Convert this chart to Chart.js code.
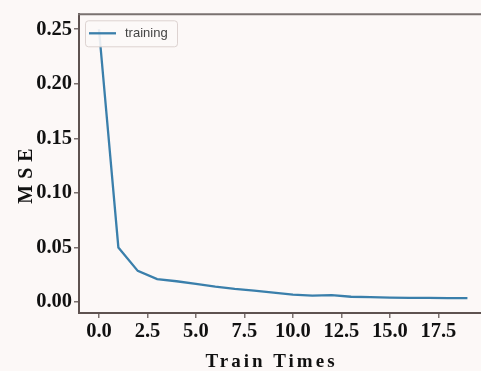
<!DOCTYPE html>
<html>
<head>
<meta charset="utf-8">
<script src="https://cdn.jsdelivr.net/npm/chart.js@4/dist/chart.umd.min.js"></script>
<style>
  html, body { margin: 0; padding: 0; background: #fcf8f7; }
  #wrap { width: 481px; height: 371px; position: relative; }
</style>
</head>
<body>
<div id="wrap"><canvas id="c" width="481" height="371"></canvas></div>
<script>
// ---- data ----
const trainTimes = [0, 1, 2, 3, 4, 5, 6, 7, 8, 9, 10, 11, 12, 13, 14, 15, 16, 17, 18, 19];
const mseTraining = [0.250, 0.050, 0.0285, 0.021, 0.019, 0.0165, 0.014, 0.012, 0.0105, 0.0085, 0.0068, 0.0058, 0.0062, 0.0048, 0.0044, 0.0040, 0.0038, 0.0037, 0.0036, 0.0035];
const seriesLabel = 'training';
const xTickValues = [0, 2.5, 5, 7.5, 10, 12.5, 15, 17.5];
const yTickValues = [0, 0.05, 0.10, 0.15, 0.20, 0.25];
const xTitle = 'Train Times';
const yTitle = 'MSE';

const SPINE = '#5e5250';
const BG = '#fcf8f7';
const tickFont = { family: "'Liberation Serif', 'Times New Roman', serif", size: 20.5, weight: 'bold' };

const bgPlugin = {
  id: 'bg',
  beforeDraw(chart) {
    const ctx = chart.ctx;
    ctx.save();
    ctx.fillStyle = BG;
    ctx.fillRect(0, 0, chart.width, chart.height);
    ctx.restore();
  }
};

const framePlugin = {
  id: 'frame',
  afterDraw(chart) {
    const ctx = chart.ctx;
    const a = chart.chartArea;
    ctx.save();
    // top spine
    ctx.strokeStyle = '#7a7270';
    ctx.lineWidth = 2;
    ctx.beginPath();
    ctx.moveTo(a.left - 1, a.top);
    ctx.lineTo(a.right, a.top);
    ctx.stroke();

    // legend box
    const ds = chart.data.datasets[0];
    const bx = a.left + 6, by = a.top + 6, bw = 92, bh = 26;
    ctx.fillStyle = 'rgba(252,248,247,0.9)';
    ctx.strokeStyle = '#ddd3d1';
    ctx.lineWidth = 1;
    ctx.beginPath();
    if (ctx.roundRect) ctx.roundRect(bx + 0.5, by + 0.5, bw, bh, 3); else ctx.rect(bx + 0.5, by + 0.5, bw, bh);
    ctx.fill();
    ctx.stroke();
    ctx.strokeStyle = ds.borderColor;
    ctx.lineWidth = 2.3;
    ctx.beginPath();
    ctx.moveTo(bx + 4, by + 13);
    ctx.lineTo(bx + 31, by + 13);
    ctx.stroke();
    ctx.fillStyle = '#444';
    ctx.font = "13px 'Liberation Sans', Arial, sans-serif";
    ctx.textBaseline = 'middle';
    ctx.textAlign = 'left';
    ctx.fillText(ds.label, bx + 40, by + 13);

    // axis titles
    ctx.fillStyle = '#111';
    ctx.font = "bold 19px 'Liberation Serif', 'Times New Roman', serif";
    ctx.textBaseline = 'alphabetic';
    ctx.letterSpacing = '3px';
    let w = ctx.measureText(xTitle).width - 3;
    ctx.fillText(xTitle, 270 - w / 2, 367);

    ctx.translate(32, 176);
    ctx.rotate(-Math.PI / 2);
    ctx.font = "bold 20px 'Liberation Serif', 'Times New Roman', serif";
    ctx.letterSpacing = '6px';
    w = ctx.measureText(yTitle).width - 6;
    ctx.fillText(yTitle, -w / 2, 0);
    ctx.restore();
  }
};

new Chart(document.getElementById('c'), {
  type: 'line',
  data: {
    labels: trainTimes,
    datasets: [{
      label: seriesLabel,
      data: trainTimes.map((t, i) => ({ x: t, y: mseTraining[i] })),
      borderColor: '#3a7fab',
      borderWidth: 2.3,
      pointRadius: 0,
      tension: 0,
      fill: false
    }]
  },
  options: {
    responsive: false,
    animation: false,
    devicePixelRatio: 1,
    layout: { padding: { top: 14, right: 0, left: 0, bottom: 0 } },
    plugins: { legend: { display: false }, tooltip: { enabled: false } },
    scales: {
      x: {
        type: 'linear',
        min: -1.03,
        max: 19.7,
        afterFit(s) { s.height = 58; },
        afterBuildTicks(s) { s.ticks = xTickValues.map(v => ({ value: v })); },
        grid: { drawOnChartArea: false, drawTicks: true, tickLength: 5, color: '#7a706e', lineWidth: 1.5 },
        border: { display: true, color: SPINE, width: 2 },
        ticks: {
          font: tickFont, color: '#111', padding: 1, maxRotation: 0, autoSkip: false,
          callback: v => Number(v).toFixed(1)
        }
      },
      y: {
        type: 'linear',
        min: -0.0101,
        max: 0.2637,
        afterFit(s) { s.width = 79; },
        afterBuildTicks(s) { s.ticks = yTickValues.map(v => ({ value: v })); },
        grid: { drawOnChartArea: false, drawTicks: true, tickLength: 5, color: '#7a706e', lineWidth: 1.5 },
        border: { display: true, color: SPINE, width: 2 },
        ticks: {
          font: tickFont, color: '#111', padding: 2, autoSkip: false,
          callback: v => Number(v).toFixed(2)
        }
      }
    }
  },
  plugins: [bgPlugin, framePlugin]
});
</script>
</body>
</html>
